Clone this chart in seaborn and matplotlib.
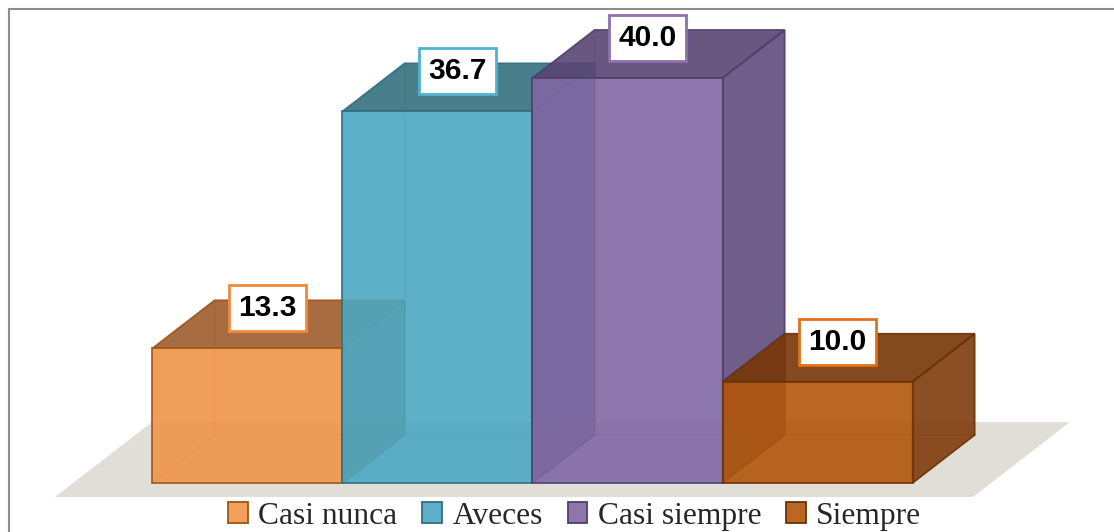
import matplotlib
matplotlib.use("Agg")
import matplotlib.pyplot as plt
import matplotlib.patches as mpatches
from matplotlib.lines import Line2D
import seaborn as sns

# data
categories = ["Casi nunca", "Aveces", "Casi siempre", "Siempre"]
values = [13.3, 36.7, 40.0, 10.0]
labels = ["13.3", "36.7", "40.0", "10.0"]

# colours (front / top / side / edge / label box)
front_colors = ["#EE9548", "#4CA7C2", "#8167A3", "#B2560B"]
top_colors = ["#9E5C2B", "#34717E", "#594574", "#763607"]
side_colors = ["#A0602E", "#3A7A88", "#5F4C7D", "#7F3C0C"]
edge_colors = ["#9E5418", "#2F6E80", "#4F3F6A", "#6A3208"]
box_colors = ["#F08A3C", "#4FB3CF", "#8E6FB0", "#E0701A"]
legend_colors = ["#F0A05A", "#5EB0C8", "#8E76AC", "#BA6723"]

# 3d look
depth_x = 0.327   # in category units
depth_y = 4.74    # in value units
alpha = 0.9

sns.set_style("white")
fig = plt.figure(figsize=(11.14, 5.32), dpi=100)
ax = fig.add_axes([0, 0, 1, 1])

sns.barplot(x=categories, y=values, hue=categories, palette=front_colors,
            saturation=1, width=1, alpha=alpha, linewidth=1.3, legend=False, ax=ax)

# floor slab
fl_x0 = -0.5 - 0.513
fl_x1 = 3.5 + 0.318
fl_y0 = -1.38
fl_y1 = fl_y0 + depth_y * 1.56
fl_shift = (fl_y1 - fl_y0) / depth_y * depth_x
floor = mpatches.Polygon([(fl_x0, fl_y0), (fl_x1, fl_y0),
                          (fl_x1 + fl_shift, fl_y1), (fl_x0 + fl_shift, fl_y1)],
                         closed=True, facecolor="#E0DED7", edgecolor="none", zorder=0)
ax.add_patch(floor)

for i, p in enumerate(ax.patches[:len(values)]):
    x0 = p.get_x()
    w = p.get_width()
    x1 = x0 + w
    h = p.get_height()
    p.set_edgecolor(edge_colors[i])
    p.set_zorder(3 * i + 3)

    # hidden edges seen through the box
    for xs, ys in [([x0 + depth_x, x0 + depth_x], [depth_y, h + depth_y]),
                   ([x0 + depth_x, x1 + depth_x], [depth_y, depth_y]),
                   ([x0, x0 + depth_x], [0, depth_y])]:
        ax.plot(xs, ys, color=edge_colors[i], alpha=0.25, lw=1.3, zorder=3 * i + 1)

    side = mpatches.Polygon([(x1, 0), (x1 + depth_x, depth_y),
                             (x1 + depth_x, h + depth_y), (x1, h)],
                            closed=True, facecolor=side_colors[i], alpha=alpha,
                            edgecolor=edge_colors[i], lw=1.3, zorder=3 * i + 2)
    top = mpatches.Polygon([(x0, h), (x0 + depth_x, h + depth_y),
                            (x1 + depth_x, h + depth_y), (x1, h)],
                           closed=True, facecolor=top_colors[i], alpha=alpha,
                           edgecolor=edge_colors[i], lw=1.3, zorder=3 * i + 2)
    ax.add_patch(side)
    ax.add_patch(top)

    ax.text(x0 + w / 2 + 0.105, h + 3.95, labels[i], ha="center", va="center",
            fontsize=21.5, fontweight="bold", family="Liberation Sans", color="black",
            zorder=20,
            bbox=dict(boxstyle="square,pad=0.3", facecolor="white",
                      edgecolor=box_colors[i], lw=2))

ax.set_xlim(-1.3026, 4.5605)
ax.set_ylim(-4.84, 47.70)
ax.axis("off")

# outer frame (only left/top visible)
fig.add_artist(Line2D([9 / 1114, 9 / 1114], [0, 1 - 9 / 532], color="#8C8C8C", lw=1.5))
fig.add_artist(Line2D([9 / 1114, 1], [1 - 9 / 532, 1 - 9 / 532], color="#8C8C8C", lw=1.5))

handles = [mpatches.Patch(facecolor=legend_colors[i], edgecolor=edge_colors[i],
                          lw=1.3, label=categories[i]) for i in range(len(categories))]
fig.legend(handles=handles, loc="center", bbox_to_anchor=(0.516, 0.03), ncol=4,
           frameon=False, prop={"family": "Liberation Serif", "size": 22.7},
           handlelength=0.62, handleheight=0.62, handletextpad=0.33,
           columnspacing=0.79, borderpad=0)

fig.savefig("out.png", dpi=100)
